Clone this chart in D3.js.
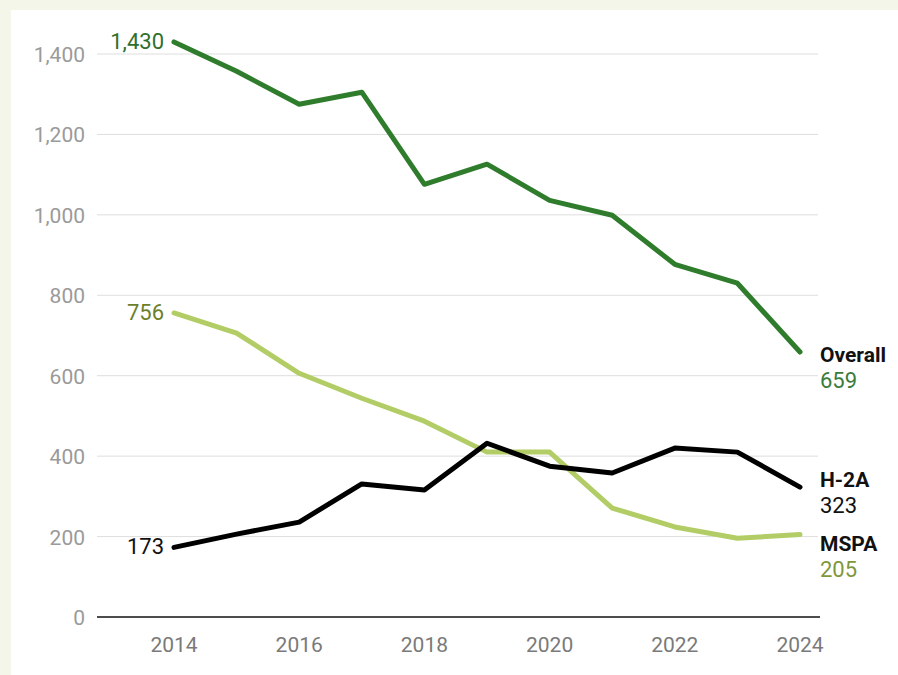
<!DOCTYPE html>
<html lang="en">
<head>
<meta charset="UTF-8">
<title>Overall, H-2A and MSPA</title>
<style>
  body { margin: 0; background: #f3f6e8; font-family: Roboto, "Noto Sans", sans-serif; }
  #chart { position: absolute; left: 11px; top: 10px; width: 887px; height: 665px; background: #ffffff; }
  svg { display: block; }
</style>
</head>
<body>
<div id="chart"><svg width="887" height="665"></svg></div>
<script src="https://d3js.org/d3.v7.min.js"></script>
<script>
const years = [2014, 2015, 2016, 2017, 2018, 2019, 2020, 2021, 2022, 2023, 2024];
const overall = [1430, 1357, 1275, 1305, 1076, 1126, 1036, 999, 877, 830, 659];
const mspa = [756, 706, 606, 544, 487, 410, 410, 271, 224, 196, 205];
const h2a = [173, 206, 236, 331, 316, 432, 375, 358, 420, 410, 323];
const yTicks = [0, 200, 400, 600, 800, 1000, 1200, 1400];
const xTicks = [2014, 2016, 2018, 2020, 2022, 2024];

const series = [
    { name: "Overall", values: overall, color: "#2f7d2c", startColor: "#2f6f2c", endColor: "#3b7b3b" },
    { name: "MSPA", values: mspa, color: "#b3cd66", startColor: "#6d7f2a", endColor: "#7f973c" },
    { name: "H-2A", values: h2a, color: "#000000", startColor: "#111111", endColor: "#111111" }
];

const svg = d3.select("svg");
// svg is offset by (11, 10) inside the page
const g = svg.append("g").attr("transform", "translate(-11,-10)");

const x = d3.scaleLinear().domain([2014, 2024]).range([174, 800]);
const y = d3.scaleLinear().domain([0, 1400]).range([617, 54]);

// gridlines + y labels
g.selectAll(".grid")
    .data(yTicks.filter(d => d > 0))
    .enter().append("line")
    .attr("x1", 97).attr("x2", 818)
    .attr("y1", d => y(d)).attr("y2", d => y(d))
    .attr("stroke", "#dedede").attr("stroke-width", 1);

g.selectAll(".ylab")
    .data(yTicks)
    .enter().append("text")
    .attr("x", 85).attr("y", d => y(d) + 8)
    .attr("text-anchor", "end")
    .attr("fill", "#9a9a9a")
    .style("font-size", "21px")
    .text(d => d3.format(",")(d));

g.append("line")
    .attr("x1", 97).attr("x2", 820)
    .attr("y1", y(0)).attr("y2", y(0))
    .attr("stroke", "#111").attr("stroke-width", 1.5);

g.selectAll(".xlab")
    .data(xTicks)
    .enter().append("text")
    .attr("x", d => x(d)).attr("y", 652)
    .attr("text-anchor", "middle")
    .attr("fill", "#7a7a7a")
    .style("font-size", "21px")
    .text(d => d);

const line = d3.line()
    .x((d, i) => x(years[i]))
    .y(d => y(d));

series.forEach(s => {
    g.append("path")
        .datum(s.values)
        .attr("d", line)
        .attr("fill", "none")
        .attr("stroke", s.color)
        .attr("stroke-width", 5)
        .attr("stroke-linejoin", "round")
        .attr("stroke-linecap", "round");

    g.append("text")
        .attr("x", x(years[0]) - 10)
        .attr("y", y(s.values[0]) + 7)
        .attr("text-anchor", "end")
        .attr("fill", s.startColor)
        .style("font-size", "22px")
        .text(d3.format(",")(s.values[0]));
});

const endLabels = [
    { s: series[0], y: 362 },
    { s: series[2], y: 487 },
    { s: series[1], y: 551 }
];

endLabels.forEach(e => {
    const last = e.s.values[e.s.values.length - 1];
    g.append("text")
        .attr("x", 820).attr("y", e.y)
        .attr("fill", "#111")
        .style("font-size", "21px")
        .style("font-weight", "bold")
        .text(e.s.name);
    g.append("text")
        .attr("x", 820).attr("y", e.y + 26)
        .attr("fill", e.s.endColor)
        .style("font-size", "22px")
        .text(last);
});
</script>
</body>
</html>
